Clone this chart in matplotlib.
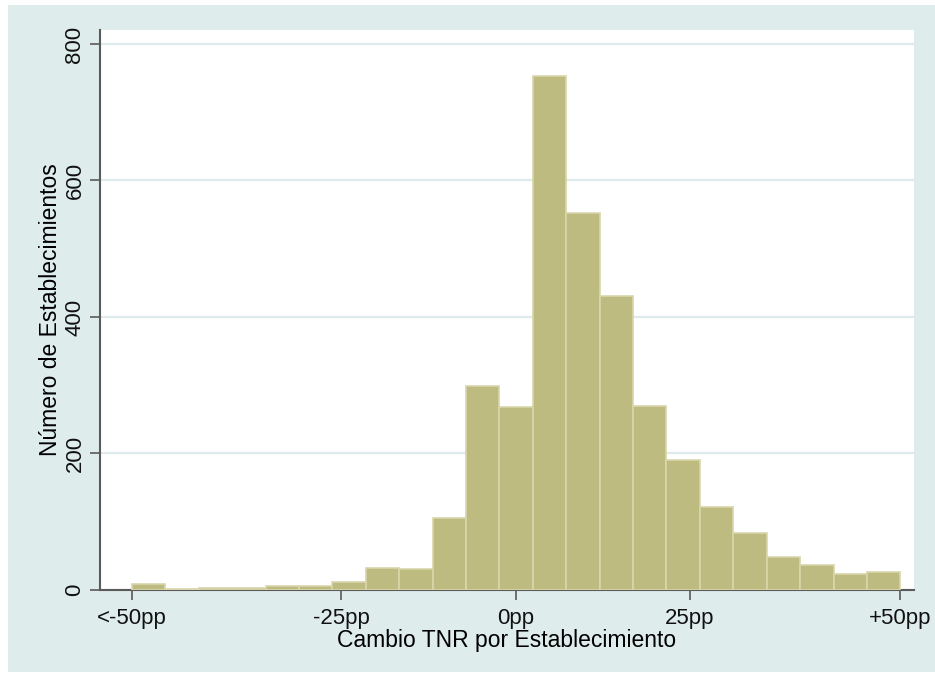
#!/usr/bin/env python3
"""Histogram of the change in TNR per establishment (Stata s2color look)."""

import matplotlib
matplotlib.use("Agg")
import matplotlib.pyplot as plt
from matplotlib.patches import Rectangle

# bin counts, left to right (23 bins from <-50pp to +50pp)
counts = [9, 2, 3, 3, 6, 6, 11, 32, 31, 106, 299, 268, 753, 552, 431,
          270, 190, 122, 83, 48, 36, 24, 26]
# tick positions in bin units and their labels
tick_pos = [0, 6.26, 11.5, 16.7, 23.0]
tick_labels = ["<-50pp", "-25pp", "0pp", "25pp", "+50pp"]
y_ticks = [0, 200, 400, 600, 800]

BG = "#dfecec"
BAR = "#bebb80"
BAR_EDGE = "#d8d6ab"
GRID = "#dfeaec"
AXIS = "#5a5a5a"

W, H = 935, 677
plt.rcParams["font.family"] = ["Liberation Sans", "DejaVu Sans"]

fig = plt.figure(figsize=(W / 100, H / 100), dpi=100, facecolor="white")
fig.patches.append(Rectangle((8 / W, 5 / H), (W - 8) / W, (H - 10) / H,
                             transform=fig.transFigure, facecolor=BG,
                             edgecolor="none", zorder=-10))

left, right, top, bottom = 100, 914, 30, 590
ax = fig.add_axes([left / W, 1 - bottom / H, (right - left) / W, (bottom - top) / H])
ax.set_facecolor("white")

edges = list(range(len(counts)))
ax.bar(edges, counts, width=1.0, align="edge", color=BAR,
       edgecolor=BAR_EDGE, linewidth=1.2, zorder=3)

ax.set_xlim(-0.96, 23.41)
ax.set_ylim(0, 820.5)

ax.set_yticks(y_ticks)
ax.set_yticklabels([str(v) for v in y_ticks], rotation=90, va="center")
ax.set_xticks(tick_pos)
ax.set_xticklabels(tick_labels)

ax.yaxis.grid(True, color=GRID, linewidth=1.6, zorder=0)
ax.set_axisbelow(True)

for s in ["top", "right"]:
    ax.spines[s].set_visible(False)
for s in ["left", "bottom"]:
    ax.spines[s].set_color(AXIS)
    ax.spines[s].set_linewidth(1.5)
ax.tick_params(axis="both", length=7, width=1.2, color=AXIS,
               labelsize=16, labelcolor="#111111")
ax.tick_params(axis="x", pad=6)
ax.tick_params(axis="y", pad=3.5)

ax.set_xlabel("Cambio TNR por Establecimiento", fontsize=16.5, labelpad=0)
ax.set_ylabel("Número de Establecimientos", fontsize=16.5, labelpad=2)

fig.savefig("out.png", dpi=100, facecolor=fig.get_facecolor())
